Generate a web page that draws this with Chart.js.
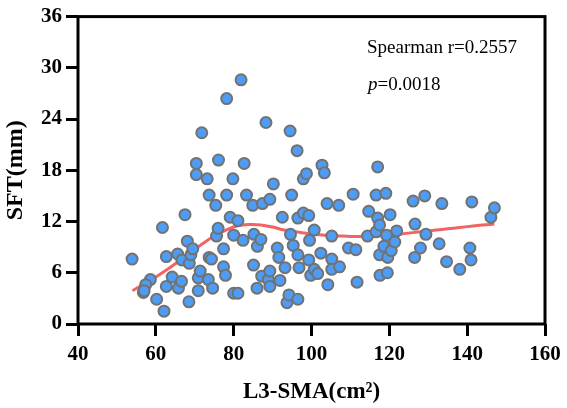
<!DOCTYPE html>
<html>
<head>
<meta charset="utf-8">
<script src="https://cdn.jsdelivr.net/npm/chart.js@4"></script>
<style>
  html, body { margin: 0; padding: 0; background: #ffffff; }
  #wrap { width: 567px; height: 408px; }
</style>
</head>
<body>
<div id="wrap"><canvas id="sftChart" width="567" height="408"></canvas></div>
<script>
// L3-SMA (cm²) vs SFT (mm)
var smaValues = [53.9, 56.8, 58.6, 57.4, 57.0, 60.2, 62.1, 61.7, 62.7, 62.7,
  64.2, 65.6, 65.8, 66.6, 66.7, 67.5, 68.1, 68.5, 68.6, 69.0,
  69.5, 70.4, 70.4, 70.9, 70.9, 71.4, 71.8, 73.2, 73.7, 73.7,
  73.5, 74.3, 74.6, 75.4, 75.6, 76.0, 76.1, 77.4, 77.4, 77.9,
  78.2, 78.2, 79.1, 79.8, 80.0, 80.0, 81.1, 81.1, 81.9, 82.4,
  82.7, 83.3, 84.9, 85.1, 85.2, 86.0, 86.1, 87.0, 87.4, 87.2,
  88.3, 88.9, 89.3, 89.3, 89.3, 90.2, 91.2, 91.6, 91.9, 92.5,
  93.2, 93.7, 94.2, 94.5, 94.6, 94.9, 95.3, 96.3, 96.5, 96.5,
  96.5, 96.8, 97.9, 98.7, 97.9, 99.3, 99.3, 99.5, 99.8, 100.7,
  100.7, 101.6, 102.4, 102.7, 103.3, 104.0, 104.2, 105.2, 105.2, 105.2,
  107.0, 107.2, 109.5, 110.7, 111.4, 111.7, 114.4, 114.7, 116.6, 116.6,
  117.0, 117.0, 117.5, 117.5, 117.6, 118.6, 119.1, 119.3, 119.5, 119.6,
  120.2, 120.5, 121.4, 121.9, 126.1, 126.6, 126.5, 128.0, 129.1, 129.4,
  132.8, 133.5, 134.7, 138.1, 140.7, 141.0, 141.2, 146.1, 147.0];
var sftValues = [7.6, 3.7, 5.2, 4.6, 3.9, 2.9, 1.5, 11.3, 7.9, 4.4,
  5.5, 8.2, 4.2, 5.0, 7.5, 12.8, 9.7, 2.6, 7.1, 8.1,
  8.8, 18.8, 17.5, 3.9, 5.4, 6.2, 22.4, 17.0, 15.1, 7.8,
  5.2, 7.6, 4.2, 13.9, 10.3, 11.2, 19.2, 8.8, 6.7, 5.7,
  26.4, 15.1, 12.5, 17.0, 3.6, 10.4, 3.6, 12.1, 28.6, 9.8,
  18.8, 15.1, 13.9, 6.9, 10.5, 4.2, 9.1, 9.9, 14.1, 5.6,
  23.6, 5.2, 6.2, 4.4, 14.6, 16.4, 8.9, 7.8, 5.1, 12.5,
  6.6, 2.5, 3.4, 22.6, 10.5, 15.1, 9.2, 20.3, 2.9, 12.4,
  8.1, 6.6, 17.0, 17.6, 13.0, 12.7, 7.5, 9.8, 5.7, 6.4,
  11.0, 5.9, 8.3, 18.6, 17.7, 14.1, 4.6, 10.3, 7.6, 6.4,
  13.9, 6.7, 8.9, 15.2, 8.7, 4.9, 10.3, 13.2, 15.1, 10.8,
  18.4, 12.4, 11.6, 8.1, 5.7, 9.1, 15.3, 10.4, 6.0, 7.8,
  12.8, 8.6, 9.6, 10.9, 14.4, 11.7, 7.8, 8.9, 15.0, 10.5,
  9.4, 14.1, 7.3, 6.4, 8.9, 7.5, 14.3, 12.5, 13.6];

// smoothed trend line
var curveX = [54, 57, 60, 63, 66, 69, 72, 75, 78, 81, 84, 87, 90, 93, 96, 99,
  102, 105, 108, 111, 114, 117, 120, 123, 126, 129, 132, 135, 138, 141, 144, 147];
var curveY = [3.9, 4.7, 5.5, 6.4, 7.4, 8.4, 9.4, 10.3, 11.0, 11.5, 11.65, 11.6, 11.35, 11.0, 10.8, 10.6,
  10.45, 10.35, 10.3, 10.25, 10.25, 10.35, 10.45, 10.55, 10.7, 10.85, 11.0, 11.15, 11.3, 11.45, 11.6, 11.7];

var xTicks = [40, 60, 80, 100, 120, 140, 160];
var yTicks = [0, 6, 12, 18, 24, 30, 36];
var statLabel = 'Spearman r=0.2557';
var pLabel = '=0.0018';

var serif = "'Liberation Serif', 'Times New Roman', serif";

var points = [];
for (var i = 0; i < smaValues.length; i++) {
  points.push({ x: smaValues[i], y: sftValues[i] });
}
var curve = [];
for (var j = 0; j < curveX.length; j++) {
  curve.push({ x: curveX[j], y: curveY[j] });
}

// box around the plot + the stats text
var frameAndText = {
  id: 'frameAndText',
  beforeDatasetsDraw: function(chart) {
    var a = chart.chartArea, c = chart.ctx;
    c.save();
    c.strokeStyle = '#000000';
    c.lineWidth = 3;
    c.strokeRect(a.left, a.top, a.right - a.left, a.bottom - a.top);
    c.restore();
  },
  afterDraw: function(chart) {
    var a = chart.chartArea, c = chart.ctx;
    c.save();
    c.fillStyle = '#000000';
    c.textBaseline = 'middle';
    c.textAlign = 'left';
    c.font = '19px ' + serif;
    c.fillText(statLabel, a.left + 289, a.top + 31);
    c.font = 'italic 19px ' + serif;
    c.fillText('p', a.left + 290, a.top + 68);
    var w = c.measureText('p').width;
    c.font = '19px ' + serif;
    c.fillText(pLabel, a.left + 290 + w, a.top + 68);
    c.restore();
  }
};

var ctx = document.getElementById('sftChart').getContext('2d');
var chart = new Chart(ctx, {
  type: 'scatter',
  data: {
    datasets: [
      {
        label: 'SFT',
        data: points,
        order: 1,
        pointRadius: 5.5,
        pointHoverRadius: 5.5,
        pointBackgroundColor: '#4d9cf5',
        pointBorderColor: '#727272',
        pointBorderWidth: 2
      },
      {
        label: 'trend',
        data: curve,
        order: 2,
        showLine: true,
        tension: 0.4,
        pointRadius: 0,
        borderColor: '#f26464',
        borderWidth: 3,
        fill: false
      }
    ]
  },
  options: {
    responsive: false,
    animation: false,
    layout: { padding: { left: 0, right: 22, top: 13, bottom: 0 } },
    plugins: {
      legend: { display: false },
      tooltip: { enabled: false }
    },
    scales: {
      x: {
        type: 'linear',
        min: 40,
        max: 160,
        afterFit: function(s) { s.height = 84; },
        afterBuildTicks: function(s) { s.ticks = xTicks.map(function(v) { return { value: v }; }); },
        border: { display: false },
        grid: { drawOnChartArea: false, drawTicks: true, tickLength: 12, color: '#000000', lineWidth: 3 },
        ticks: { color: '#000000', padding: 6, maxRotation: 0, font: { family: serif, size: 21, weight: 'bold' } },
        title: {
          display: true,
          text: 'L3-SMA(cm²)',
          color: '#000000',
          padding: { top: 0, bottom: 2 },
          font: { family: serif, size: 23, weight: 'bold' }
        }
      },
      y: {
        type: 'linear',
        min: 0,
        max: 36,
        afterFit: function(s) { s.width = 78; },
        afterBuildTicks: function(s) { s.ticks = yTicks.map(function(v) { return { value: v }; }); },
        border: { display: false },
        grid: { drawOnChartArea: false, drawTicks: true, tickLength: 12, color: '#000000', lineWidth: 3 },
        ticks: { color: '#000000', padding: 4, font: { family: serif, size: 21, weight: 'bold' } },
        title: {
          display: true,
          text: 'SFT(mm)',
          color: '#000000',
          padding: { top: 1, bottom: 0 },
          font: { family: serif, size: 24, weight: 'bold' }
        }
      }
    }
  },
  plugins: [frameAndText]
});
</script>
</body>
</html>
